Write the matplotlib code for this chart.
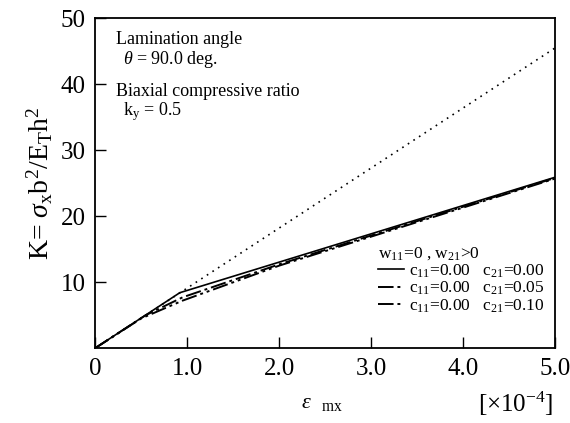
import matplotlib
matplotlib.use('Agg')
import matplotlib.pyplot as plt

plt.rcParams['font.family'] = ['Liberation Serif', 'DejaVu Serif']
plt.rcParams['mathtext.fontset'] = 'custom'
plt.rcParams['mathtext.rm'] = 'Liberation Serif'
plt.rcParams['mathtext.it'] = 'Liberation Serif:italic'

# data
eps_solid = [0.0, 0.92, 5.0]
k_solid = [0.0, 8.4, 25.9]
eps_dot = [0.0, 5.0]
k_dot = [0.0, 45.5]
eps_c05 = [0.0, 0.55, 0.95, 2.0, 5.0]
k_c05 = [0.0, 5.0, 7.7, 12.7, 25.8]
eps_c10 = [0.0, 0.5, 0.95, 2.0, 5.0]
k_c10 = [0.0, 4.5, 7.2, 12.5, 25.7]
labels = [r'c$_{11}$=0.00   c$_{21}$=0.00',
          r'c$_{11}$=0.00   c$_{21}$=0.05',
          r'c$_{11}$=0.00   c$_{21}$=0.10']
xticks = [0, 1, 2, 3, 4, 5]
xtick_labels = ['0', '1.0', '2.0', '3.0', '4.0', '5.0']
yticks = [10, 20, 30, 40, 50]

fig = plt.figure(figsize=(5.7, 4.23), dpi=100)
ax = fig.add_axes([0.167, 0.177, 0.807, 0.780])

ax.plot(eps_dot, k_dot, color='black', linestyle=(0, (1, 3)), linewidth=1.2)
l1, = ax.plot(eps_solid, k_solid, color='black', linewidth=1.2)
l2, = ax.plot(eps_c05, k_c05, color='black', linewidth=1.4, linestyle=(0, (8, 2, 1.5, 2)))
l3, = ax.plot(eps_c10, k_c10, color='black', linewidth=1.4, linestyle=(0, (8, 2, 1.5, 2, 1.5, 2)))

ax.set_xlim(0, 5)
ax.set_ylim(0, 50)
ax.set_xticks(xticks)
ax.set_xticklabels(xtick_labels)
ax.set_yticks(yticks)
ax.tick_params(direction='in', length=8, width=1, labelsize=18, pad=7)
for s in ax.spines.values():
    s.set_linewidth(1.3)

ax.set_ylabel(r'K= $\sigma$$_{\rm x}$b$^2$/E$_{\rm T}$h$^2$', fontsize=20, labelpad=4)
fig.text(0.565, 0.035, r'$\varepsilon$  $_{\rm mx}$', fontsize=16, ha='center')
fig.text(0.905, 0.025, r'[$\times$10$^{-4}$]', fontsize=18, ha='center')

ax.text(0.045, 0.922, 'Lamination angle', transform=ax.transAxes, fontsize=13)
ax.text(0.06, 0.862, r'$\theta$ = 90.0 deg.', transform=ax.transAxes, fontsize=13)
ax.text(0.045, 0.765, 'Biaxial compressive ratio', transform=ax.transAxes, fontsize=13)
ax.text(0.06, 0.705, r'k$_{\rm y}$ = 0.5', transform=ax.transAxes, fontsize=13)

leg = ax.legend([l1, l2, l3], labels, title=r'w$_{11}$=0 , w$_{21}$>0',
                loc='lower right', bbox_to_anchor=(1.0, 0.07), frameon=False,
                fontsize=12.5, title_fontsize=12.5, handlelength=1.5,
                handletextpad=0.3, labelspacing=0.0, borderaxespad=0.2)
leg._legend_box.align = 'left'

fig.savefig('out.png', dpi=100)
